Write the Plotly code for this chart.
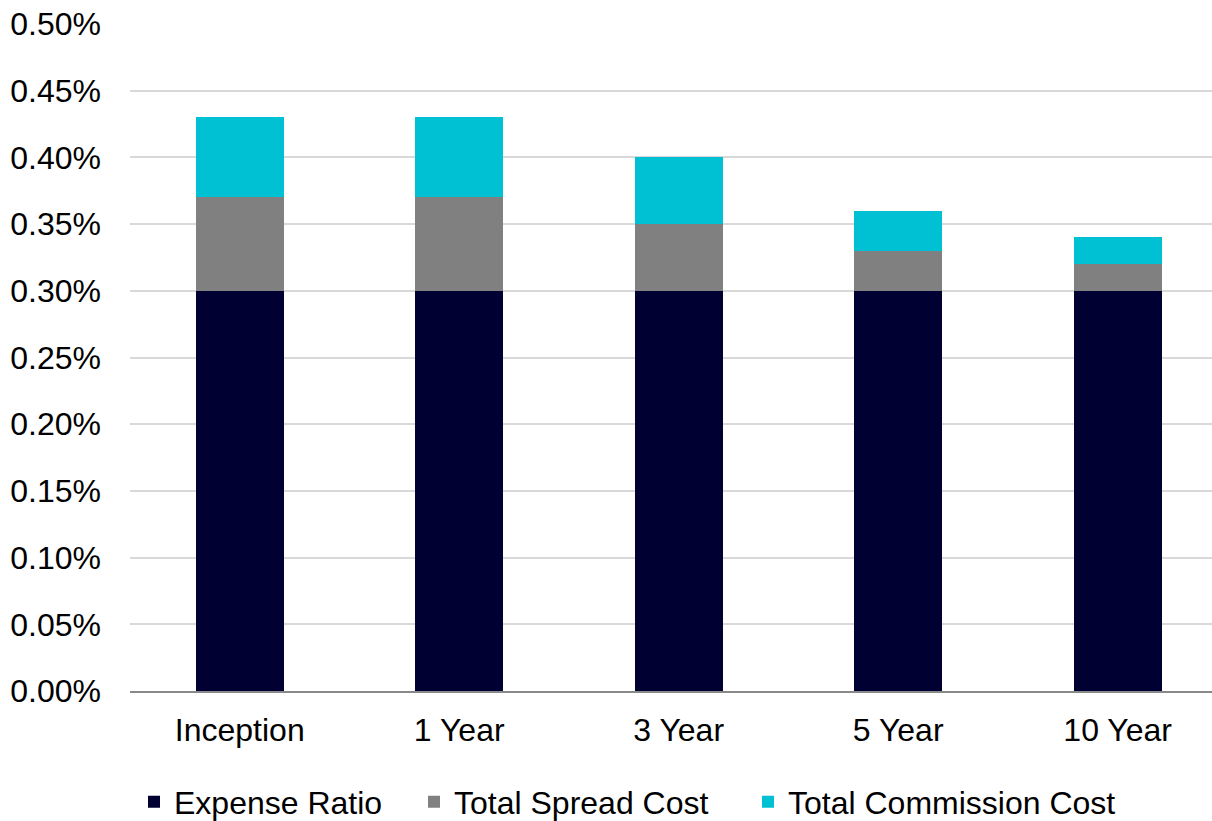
import plotly.graph_objects as go

# Cost breakdown by holding period (values in percent)
periods = ["Inception", "1 Year", "3 Year", "5 Year", "10 Year"]
expense_ratio = [0.30, 0.30, 0.30, 0.30, 0.30]
spread_cost = [0.07, 0.07, 0.05, 0.03, 0.02]
commission_cost = [0.06, 0.06, 0.05, 0.03, 0.02]

y_ticks = [0.00, 0.05, 0.10, 0.15, 0.20, 0.25, 0.30, 0.35, 0.40, 0.45, 0.50]
y_tick_labels = [f"{v:.2f}%" for v in y_ticks]

FONT = "Liberation Sans, Arial, sans-serif"
FS = 32
W, H = 1212, 821

fig = go.Figure()
fig.add_trace(go.Bar(name="Expense Ratio", x=periods, y=expense_ratio,
                     marker=dict(color="#000033", line=dict(width=0)),
                     legend="legend"))
fig.add_trace(go.Bar(name="Total Spread Cost", x=periods, y=spread_cost,
                     marker=dict(color="#808080", line=dict(width=0)),
                     legend="legend2"))
fig.add_trace(go.Bar(name="Total Commission Cost", x=periods, y=commission_cost,
                     marker=dict(color="#00C0D4", line=dict(width=0)),
                     legend="legend3"))


def legend_at(px_left):
    # one legend box per series, laid out in a row under the axis
    return dict(
        orientation="h",
        xref="container", x=px_left / W, xanchor="left",
        yref="container", y=1 - 802 / H, yanchor="middle",
        font=dict(size=FS),
        itemclick=False,
        bgcolor="rgba(0,0,0,0)",
    )


fig.update_layout(
    barmode="stack",
    bargap=0.6,
    width=W,
    height=H,
    margin=dict(l=130, r=0, t=24, b=130),
    paper_bgcolor="white",
    plot_bgcolor="white",
    font=dict(family=FONT, size=FS, color="#000000"),
    showlegend=True,
    legend=legend_at(134),
    legend2=legend_at(414),
    legend3=legend_at(748),
    xaxis=dict(
        range=[-0.5, 4.43],
        showgrid=False,
        showline=True,
        linecolor="#898989",
        linewidth=2,
        ticks="",
        ticklabelstandoff=10,
        tickfont=dict(size=FS),
    ),
    yaxis=dict(
        range=[0, 0.5],
        tickvals=y_ticks,
        ticktext=y_tick_labels,
        showgrid=True,
        gridcolor="#D9D9D9",
        gridwidth=2,
        zeroline=False,
        showline=False,
        ticks="",
        ticklabelstandoff=28,
        tickfont=dict(size=FS),
    ),
)

fig.write_html("out.html")
